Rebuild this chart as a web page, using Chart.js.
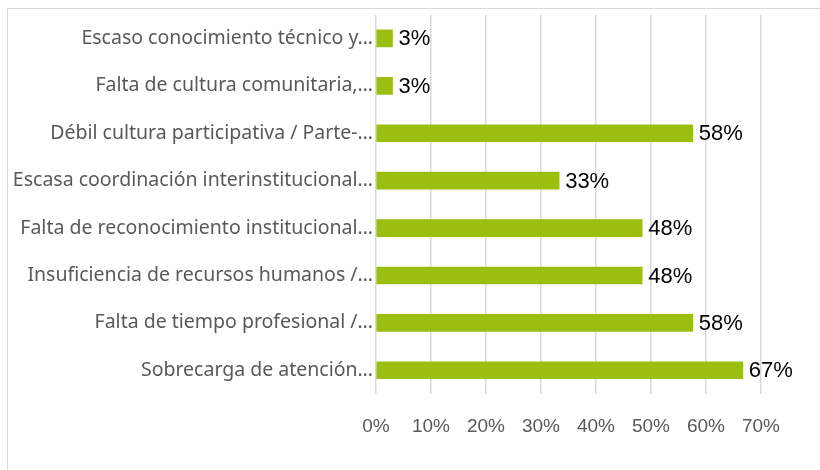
<!DOCTYPE html>
<html>
<head>
<meta charset="utf-8">
<script src="https://cdn.jsdelivr.net/npm/chart.js@4/dist/chart.umd.min.js"></script>
<style>
  html, body { margin: 0; padding: 0; background: #fff; overflow: hidden; }
  #frame { position: absolute; left: 7px; top: 8px; width: 900px; height: 600px; border: 1.5px solid #d9d9d9; }
  #wrap { position: absolute; left: 0; top: 0; width: 820px; height: 470px; }
</style>
</head>
<body>
<div id="frame"></div>
<div id="wrap"><canvas id="myChart" width="820" height="470"></canvas></div>
<script>
// Categories and values (share of responses, %)
const categories = [
    "Escaso conocimiento técnico y…",
    "Falta de cultura comunitaria,…",
    "Débil cultura participativa / Parte-…",
    "Escasa coordinación interinstitucional…",
    "Falta de reconocimiento institucional…",
    "Insuficiencia de recursos humanos /…",
    "Falta de tiempo profesional /…",
    "Sobrecarga de atención…"
];
const values = [3.0, 3.0, 57.6, 33.3, 48.4, 48.4, 57.6, 66.7];
const tickValues = [0, 10, 20, 30, 40, 50, 60, 70];

// draws the "58%" style labels at the end of each bar
const barLabels = {
    id: 'barLabels',
    afterDatasetsDraw(chart) {
        const ctx = chart.ctx;
        const meta = chart.getDatasetMeta(0);
        ctx.save();
        ctx.font = '22px "Liberation Sans", Arial, sans-serif';
        ctx.fillStyle = '#000';
        ctx.textAlign = 'left';
        ctx.textBaseline = 'middle';
        meta.data.forEach((bar, i) => {
            ctx.fillText(Math.round(values[i]) + '%', bar.x + 6, bar.y + 1);
        });
        ctx.restore();
    }
};

const ctx = document.getElementById('myChart').getContext('2d');
const myChart = new Chart(ctx, {
    type: 'bar',
    data: {
        labels: categories,
        datasets: [{
            data: values,
            backgroundColor: '#9bbe10',
            borderWidth: 0,
            barThickness: 17
        }]
    },
    options: {
        indexAxis: 'y',
        responsive: false,
        animation: false,
        layout: { padding: { top: 9, right: 59, left: 0, bottom: 0 } },
        plugins: {
            legend: { display: false },
            tooltip: { enabled: false }
        },
        scales: {
            x: {
                min: 0,
                max: 70,
                afterBuildTicks(axis) {
                    axis.ticks = tickValues.map(v => ({ value: v }));
                },
                afterFit(axis) { axis.height = 76; },
                grid: { color: '#d9d9d9', lineWidth: 1.5, drawTicks: false },
                border: { display: false },
                ticks: {
                    padding: 21,
                    color: '#595959',
                    font: { family: '"Liberation Sans", Arial, sans-serif', size: 19 },
                    callback: v => v + '%'
                }
            },
            y: {
                afterFit(axis) { axis.width = 376; },
                grid: { display: false, drawTicks: false },
                border: { display: false },
                ticks: {
                    padding: 3,
                    color: '#595959',
                    autoSkip: false,
                    font: { family: '"Noto Sans", sans-serif', size: 19.5 }
                }
            }
        }
    },
    plugins: [barLabels]
});
</script>
</body>
</html>
